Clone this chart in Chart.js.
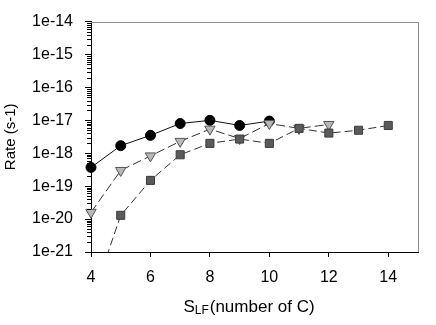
<!DOCTYPE html>
<html>
<head>
<meta charset="utf-8">
<script src="https://cdn.jsdelivr.net/npm/chart.js@4"></script>
<style>
  body { margin: 0; background: #fff; }
  #wrap { width: 436px; height: 325px; }
</style>
</head>
<body>
<div id="wrap"><canvas id="rateChart" width="436" height="325"></canvas></div>
<script>
// Axis ticks
const xTicks = [4, 6, 8, 10, 12, 14];
const yTicks = [1e-21, 1e-20, 1e-19, 1e-18, 1e-17, 1e-16, 1e-15, 1e-14];
const yTickLabels = ['1e-21', '1e-20', '1e-19', '1e-18', '1e-17', '1e-16', '1e-15', '1e-14'];

// Series
const xCircle = [4, 5, 6, 7, 8, 9, 10];
const rateCircle = [3.7e-19, 1.7e-18, 3.5e-18, 8e-18, 1e-17, 7e-18, 9.5e-18];

const xTriangle = [4, 5, 6, 7, 8, 9, 10, 11, 12];
const rateTriangle = [1.6e-20, 3e-19, 8.3e-19, 2.3e-18, 5.4e-18, 2.8e-18, 8e-18, 5.7e-18, 7.5e-18];

const xSquare = [4, 5, 6, 7, 8, 9, 10, 11, 12, 13, 14];
const rateSquare = [3e-23, 1.3e-20, 1.5e-19, 9e-19, 2e-18, 2.7e-18, 2e-18, 5.7e-18, 4.1e-18, 5e-18, 7e-18];

const FONT = '"Liberation Sans", Arial, sans-serif';
const toPoints = (xs, ys) => xs.map((x, i) => ({ x: x, y: ys[i] }));
const pointClip = { left: 12, top: 12, right: 12, bottom: 0 };

// grey frame on top/right, minor log ticks, and the subscripted x title
const extras = {
    id: 'extras',
    beforeDatasetsDraw(chart) {
        const a = chart.chartArea;
        const ctx = chart.ctx;
        ctx.save();
        ctx.strokeStyle = '#8c8c8c';
        ctx.lineWidth = 1;
        ctx.beginPath();
        ctx.moveTo(a.left, Math.round(a.top) + 0.5);
        ctx.lineTo(Math.round(a.right) + 0.5, Math.round(a.top) + 0.5);
        ctx.lineTo(Math.round(a.right) + 0.5, a.bottom);
        ctx.stroke();
        ctx.restore();
    },
    afterDraw(chart) {
        const ctx = chart.ctx;
        const ys = chart.scales.y;
        const a = chart.chartArea;
        ctx.save();
        ctx.strokeStyle = '#000';
        ctx.lineWidth = 1;
        ctx.beginPath();
        for (let d = -21; d < -14; d++) {
            for (let m = 2; m <= 9; m++) {
                const py = Math.round(ys.getPixelForValue(m * Math.pow(10, d))) + 0.5;
                ctx.moveTo(a.left - 4, py);
                ctx.lineTo(a.left, py);
            }
        }
        ctx.stroke();

        // x axis title: S_LF(number of C)
        const big = '17px ' + FONT, small = '12px ' + FONT;
        ctx.fillStyle = '#000';
        ctx.textBaseline = 'alphabetic';
        ctx.textAlign = 'left';
        ctx.font = big;
        const wS = ctx.measureText('S').width;
        const wRest = ctx.measureText('(number of C)').width;
        ctx.font = small;
        const wSub = ctx.measureText('LF').width;
        let x = (a.left + a.right) / 2 - 5.5 - (wS + wSub + 1 + wRest) / 2;
        const base = 312;
        ctx.font = big;
        ctx.fillText('S', x, base);
        x += wS;
        ctx.font = small;
        ctx.fillText('LF', x, base + 2);
        x += wSub + 1;
        ctx.font = big;
        ctx.fillText('(number of C)', x, base);
        ctx.restore();
    }
};

const ctx = document.getElementById('rateChart');
new Chart(ctx.getContext('2d'), {
    type: 'line',
    data: {
        datasets: [
            {
                label: 'circles',
                data: toPoints(xCircle, rateCircle),
                order: 2,
                borderColor: '#111',
                borderWidth: 1,
                pointStyle: 'circle',
                pointRadius: 5,
                pointBackgroundColor: '#000',
                pointBorderColor: '#000',
                pointBorderWidth: 1,
                clip: pointClip
            },
            {
                label: 'triangles',
                data: toPoints(xTriangle, rateTriangle),
                order: 1,
                borderColor: '#333',
                borderWidth: 1,
                borderDash: [9, 4],
                pointStyle: 'triangle',
                rotation: 180,
                pointRadius: 6,
                pointBackgroundColor: '#b8b8b8',
                pointBorderColor: '#555',
                pointBorderWidth: 1,
                clip: pointClip
            },
            {
                label: 'squares',
                data: toPoints(xSquare, rateSquare),
                order: 0,
                borderColor: '#333',
                borderWidth: 1,
                borderDash: [8, 4],
                pointStyle: 'rect',
                pointRadius: 5.7,
                pointBackgroundColor: '#5a5a5a',
                pointBorderColor: '#3c3c3c',
                pointBorderWidth: 1,
                clip: pointClip
            }
        ]
    },
    options: {
        responsive: false,
        animation: false,
        layout: { padding: { top: 17, right: 18, left: 0, bottom: 0 } },
        plugins: { legend: { display: false }, tooltip: { enabled: false } },
        elements: { line: { tension: 0, fill: false } },
        scales: {
            x: {
                type: 'linear',
                min: 4,
                max: 15,
                afterBuildTicks: (s) => { s.ticks = xTicks.map(v => ({ value: v })); },
                afterFit: (s) => { s.height = 73; },
                border: { color: '#000', width: 1 },
                grid: { drawOnChartArea: false, drawTicks: true, tickLength: 5, tickColor: '#000' },
                ticks: { color: '#000', padding: 11, maxRotation: 0, font: { family: FONT, size: 16 },
                         callback: (v) => String(v) }
            },
            y: {
                type: 'logarithmic',
                min: 1e-21,
                max: 1e-14,
                afterBuildTicks: (s) => { s.ticks = yTicks.map(v => ({ value: v, major: true })); },
                afterFit: (s) => { s.width = 91; },
                border: { color: '#000', width: 1 },
                grid: { drawOnChartArea: false, drawTicks: true, tickLength: 6, tickColor: '#000' },
                ticks: { color: '#000', padding: 12, font: { family: FONT, size: 16 },
                         callback: (v, i) => yTickLabels[i] },
                title: {
                    display: true,
                    text: 'Rate (s-1)',
                    color: '#000',
                    font: { family: FONT, size: 15 },
                    padding: { top: 2, bottom: 0 }
                }
            }
        }
    },
    plugins: [extras]
});
</script>
</body>
</html>
